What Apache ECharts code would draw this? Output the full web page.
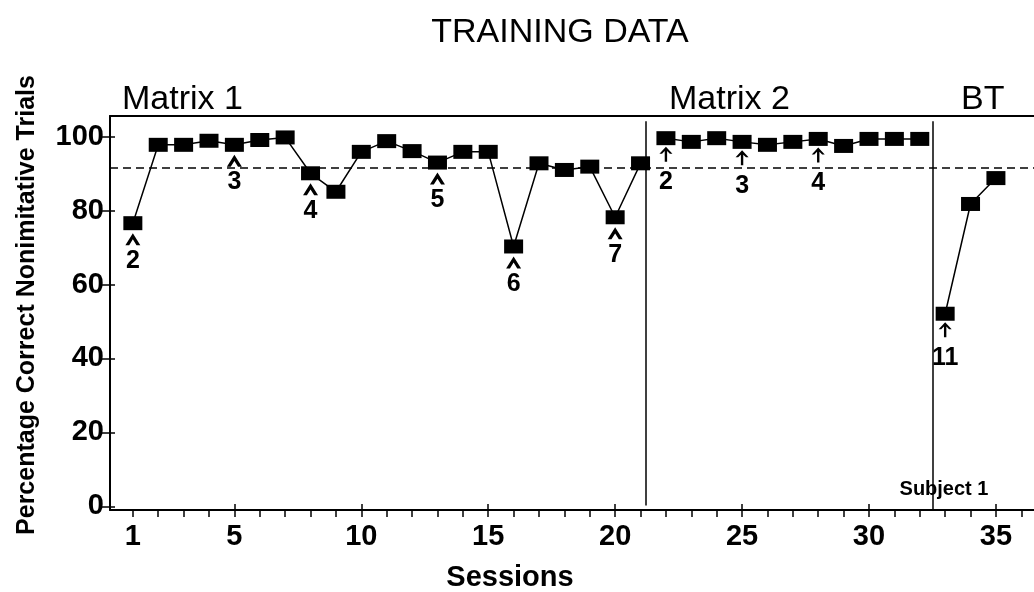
<!DOCTYPE html>
<html>
<head>
<meta charset="utf-8">
<script src="https://cdn.jsdelivr.net/npm/echarts@6/dist/echarts.min.js"></script>
<style>
html,body{margin:0;padding:0;background:#fff;}
#chart{width:1034px;height:592px;}
</style>
</head>
<body>
<div id="chart"></div>
<script>
// ---- data ----
const matrix1Sessions = [1,2,3,4,5,6,7,8,9,10,11,12,13,14,15,16,17,18,19,20,21];
const matrix1Values   = [76.6,97.8,97.8,98.9,97.8,99.1,99.8,90.1,85.1,95.9,98.8,96.1,93.0,95.9,95.9,70.3,92.8,91.0,91.9,78.2,92.8];
const matrix2Sessions = [22,23,24,25,26,27,28,29,30,31,32];
const matrix2Values   = [99.6,98.6,99.6,98.6,97.8,98.6,99.4,97.5,99.4,99.4,99.4];
const btSessions = [33,34,35];
const btValues   = [52.1,81.8,88.8];
const criterionLevel = 91.5;
const phaseChanges = [21.2, 32.5];
const phaseNames = ['Matrix 1','Matrix 2','BT'];
const xTickLabels = [1,5,10,15,20,25,30,35];
const yTickLabels = [0,20,40,60,80,100];
const chevronSessions = [1,5,8,13,16,20];
const chevronLabels   = ['2','3','4','5','6','7'];
const arrowSessions = [22,25,28,33];
const arrowLabels   = ['2','3','4','11'];

// ---- helpers ----
const allSessions = matrix1Sessions.concat(matrix2Sessions, btSessions);
const allValues = matrix1Values.concat(matrix2Values, btValues);
function valueAt(s){ return allValues[allSessions.indexOf(s)]; }
function pairs(xs, ys){ return xs.map((x,i)=>[x, ys[i]]); }
const sessionTicks = [];
for (let s = 1; s <= 36; s++) sessionTicks.push(s);
const majorTicks = xTickLabels.filter(v => v % 5 === 0);

const FONT = "'Liberation Sans', Arial, Helvetica, sans-serif";
const XMIN = 0.1, XMAX = 36.5, YMIN = -1, YMAX = 105.6;

const chevronPath = 'path://M0,11 L7,0 L14,11 L10.4,11 L7,5.6 L3.6,11 Z';
const arrowPath = 'path://M6,0 L12,6.5 L9.6,6.5 L7.1,4 L7.1,14 L4.9,14 L4.9,4 L2.4,6.5 L0,6.5 Z';

const lineSeries = (name, xs, ys, extra) => Object.assign({
  name, type: 'line', xAxisIndex: 0, yAxisIndex: 0,
  data: pairs(xs, ys),
  symbol: 'rect', symbolSize: [19, 14],
  itemStyle: { color: '#000', opacity: 1 },
  lineStyle: { color: '#000', width: 1.5 },
  z: 5, silent: true, animation: false
}, extra || {});

const annLabel = {
  show: true, position: 'bottom', distance: 3, opacity: 1,
  fontFamily: FONT, fontWeight: 'bold', fontSize: 25, color: '#000'
};

const chart = echarts.init(document.getElementById('chart'));
chart.setOption({
  animation: false,
  backgroundColor: '#fff',
  grid: { left: 110, right: 0, top: 116, bottom: 82 },
  xAxis: [
    { type: 'value', position: 'bottom', min: XMIN, max: XMAX,
      axisLine: { show: true, onZero: false, lineStyle: { color: '#000', width: 2 } },
      axisTick: { show: true, inside: false, length: 7, customValues: sessionTicks, lineStyle: { color: '#000', width: 1.5 } },
      axisLabel: { show: true, customValues: xTickLabels, margin: 12, fontFamily: FONT, fontWeight: 'bold', fontSize: 29, color: '#000' },
      splitLine: { show: false } },
    { type: 'value', position: 'bottom', min: XMIN, max: XMAX,
      axisLine: { show: false, onZero: false },
      axisTick: { show: true, inside: true, length: 6, customValues: majorTicks, lineStyle: { color: '#000', width: 1.5 } },
      axisLabel: { show: false }, splitLine: { show: false } },
    { type: 'value', position: 'top', min: XMIN, max: XMAX,
      axisLine: { show: true, onZero: false, lineStyle: { color: '#000', width: 2 } },
      axisTick: { show: false }, axisLabel: { show: false }, splitLine: { show: false } }
  ],
  yAxis: [
    { type: 'value', position: 'left', min: YMIN, max: YMAX,
      axisLine: { show: true, onZero: false, lineStyle: { color: '#000', width: 2 } },
      axisTick: { show: true, inside: false, length: 10, customValues: yTickLabels, lineStyle: { color: '#000', width: 1.5 } },
      axisLabel: { show: true, customValues: yTickLabels, margin: 6, fontFamily: FONT, fontWeight: 'bold', fontSize: 29, color: '#000' },
      splitLine: { show: false } },
    { type: 'value', position: 'left', offset: 0, min: YMIN, max: YMAX,
      axisLine: { show: false, onZero: false },
      axisTick: { show: true, inside: true, length: 5, customValues: yTickLabels, lineStyle: { color: '#000', width: 1.5 } },
      axisLabel: { show: false }, splitLine: { show: false } }
  ],
  graphic: [
    { type: 'text', x: 560, y: 33,
      style: { text: 'TRAINING DATA', fill: '#000', font: '34px ' + FONT, align: 'center', verticalAlign: 'middle' } },
    { type: 'text', x: 27, y: 305, rotation: Math.PI / 2,
      style: { text: 'Percentage Correct Nonimitative Trials', fill: '#000', font: 'bold 25px ' + FONT, align: 'center', verticalAlign: 'middle' } },
    { type: 'text', x: 510, y: 578,
      style: { text: 'Sessions', fill: '#000', font: 'bold 29px ' + FONT, align: 'center', verticalAlign: 'middle' } },
    { type: 'text', x: 122, y: 100,
      style: { text: phaseNames[0], fill: '#000', font: '34px ' + FONT, align: 'left', verticalAlign: 'middle' } },
    { type: 'text', x: 669, y: 100,
      style: { text: phaseNames[1], fill: '#000', font: '34px ' + FONT, align: 'left', verticalAlign: 'middle' } },
    { type: 'text', x: 961, y: 100,
      style: { text: phaseNames[2], fill: '#000', font: '34px ' + FONT, align: 'left', verticalAlign: 'middle' } },
    { type: 'text', x: 944, y: 489,
      style: { text: 'Subject 1', fill: '#000', font: 'bold 20px ' + FONT, align: 'center', verticalAlign: 'middle' } }
  ],
  series: [
    lineSeries('Matrix 1', matrix1Sessions, matrix1Values, {
      markLine: {
        silent: true, symbol: ['none', 'none'], label: { show: false },
        data: [
          { yAxis: criterionLevel, lineStyle: { type: [8, 5], color: '#000', width: 1.5 } },
          [ { coord: [phaseChanges[0], 104.2], lineStyle: { type: 'solid', color: '#000', width: 1.5 } }, { coord: [phaseChanges[0], 0.2] } ],
          [ { coord: [phaseChanges[1], 104.2], lineStyle: { type: 'solid', color: '#000', width: 1.5 } }, { coord: [phaseChanges[1], YMIN] } ]
        ]
      }
    }),
    lineSeries('Matrix 2', matrix2Sessions, matrix2Values),
    lineSeries('BT', btSessions, btValues),
    { type: 'scatter', name: 'steps', xAxisIndex: 0, yAxisIndex: 0, silent: true, z: 6,
      data: chevronSessions.map((s, i) => ({ value: [s, valueAt(s)], label: Object.assign({}, annLabel, { formatter: chevronLabels[i] }) })),
      symbol: chevronPath, symbolSize: [15, 12], symbolOffset: [0, 16],
      itemStyle: { color: '#000', opacity: 1 } },
    { type: 'scatter', name: 'steps2', xAxisIndex: 0, yAxisIndex: 0, silent: true, z: 6,
      data: arrowSessions.map((s, i) => ({ value: [s, valueAt(s)], label: Object.assign({}, annLabel, { formatter: arrowLabels[i], distance: 8 }) })),
      symbol: arrowPath, symbolSize: [13, 15], symbolOffset: [0, 16],
      itemStyle: { color: '#000', opacity: 1 } }
  ]
});
</script>
</body>
</html>
